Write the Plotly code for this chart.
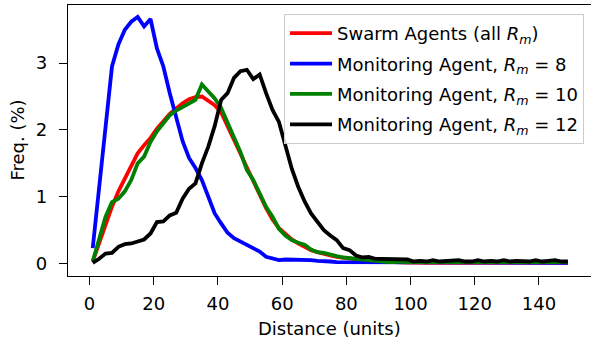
import plotly.graph_objects as go

distance = list(range(1, 150, 2))

swarm_all = [0.03, 0.30, 0.60, 0.85, 1.08, 1.28, 1.48, 1.65, 1.77, 1.88,
             2.02, 2.14, 2.24, 2.32, 2.40, 2.46, 2.49, 2.50, 2.44, 2.37,
             2.26, 2.05, 1.85, 1.65, 1.42, 1.22, 1.03, 0.83, 0.66, 0.53,
             0.45, 0.36, 0.30, 0.25, 0.20, 0.17, 0.14, 0.12, 0.10, 0.09,
             0.075, 0.06, 0.05, 0.035, 0.03, 0.03, 0.02, 0.02, 0.02, 0.015,
             0.015, 0.01, 0.01, 0.015, 0.01, 0.01, 0.01, 0.01, 0.01, 0.01,
             0.01, 0.01, 0.01, 0.01, 0.01, 0.01, 0.01, 0.01, 0.01, 0.01,
             0.01, 0.01, 0.01, 0.01, 0.01]

monitor_r8 = [0.23, 1.17, 2.10, 2.95, 3.28, 3.50, 3.62, 3.69, 3.55, 3.66,
              3.22, 2.95, 2.55, 2.17, 1.83, 1.58, 1.43, 1.25, 0.98, 0.75,
              0.60, 0.46, 0.38, 0.33, 0.27, 0.23, 0.18, 0.10, 0.08, 0.05,
              0.06, 0.06, 0.05, 0.06, 0.05, 0.04, 0.04, 0.03, 0.02, 0.02,
              0.02, 0.01, 0.02, 0.01, 0.01, 0.02, 0.01, 0.01, 0.01, 0.01,
              0.01, 0.01, 0.01, 0.01, 0.01, 0.01, 0.01, 0.01, 0.01, 0.01,
              0.01, 0.01, 0.01, 0.01, 0.01, 0.01, 0.01, 0.01, 0.01, 0.01,
              0.01, 0.01, 0.01, 0.01, 0.01]

monitor_r10 = [0.03, 0.35, 0.70, 0.92, 0.97, 1.08, 1.25, 1.50, 1.60, 1.82,
               1.98, 2.10, 2.22, 2.29, 2.34, 2.39, 2.45, 2.68, 2.58, 2.47,
               2.33, 2.10, 1.90, 1.67, 1.40, 1.25, 1.05, 0.85, 0.70, 0.52,
               0.42, 0.35, 0.31, 0.28, 0.21, 0.17, 0.16, 0.13, 0.11, 0.09,
               0.08, 0.07, 0.05, 0.04, 0.03, 0.03, 0.02, 0.02, 0.03, 0.02,
               0.02, 0.02, 0.02, 0.02, 0.02, 0.02, 0.02, 0.02, 0.02, 0.02,
               0.02, 0.02, 0.02, 0.02, 0.02, 0.02, 0.02, 0.02, 0.02, 0.02,
               0.02, 0.02, 0.02, 0.02, 0.02]

monitor_r12 = [0.01, 0.07, 0.15, 0.16, 0.25, 0.29, 0.30, 0.33, 0.36, 0.45,
               0.62, 0.63, 0.72, 0.76, 0.97, 1.12, 1.20, 1.50, 1.75, 2.06,
               2.45, 2.55, 2.78, 2.88, 2.90, 2.76, 2.83, 2.55, 2.30, 2.12,
               1.75, 1.42, 1.15, 0.93, 0.75, 0.62, 0.50, 0.42, 0.35, 0.23,
               0.20, 0.12, 0.09, 0.10, 0.07, 0.07, 0.07, 0.065, 0.065, 0.06,
               0.03, 0.04, 0.03, 0.05, 0.03, 0.04, 0.04, 0.05, 0.03, 0.03,
               0.05, 0.03, 0.04, 0.03, 0.05, 0.03, 0.04, 0.04, 0.03, 0.05,
               0.03, 0.04, 0.05, 0.03, 0.03]

x_ticks = [0, 20, 40, 60, 80, 100, 120, 140]
y_ticks = [0, 1, 2, 3]

series = [
    ("Swarm Agents (all <i>R</i><sub><i>m</i></sub>)", swarm_all, "#ff0000"),
    ("Monitoring Agent, <i>R</i><sub><i>m</i></sub> = 8", monitor_r8, "#0000ff"),
    ("Monitoring Agent, <i>R</i><sub><i>m</i></sub> = 10", monitor_r10, "#008000"),
    ("Monitoring Agent, <i>R</i><sub><i>m</i></sub> = 12", monitor_r12, "#000000"),
]

fig = go.Figure()
for i, (name, vals, color) in enumerate(series):
    fig.add_trace(go.Scatter(x=distance, y=vals, mode="lines", name=name,
                             legendgroup=f"g{i}",
                             line=dict(color=color, width=3.8)))

font = "DejaVu Sans, sans-serif"
axis_common = dict(ticks="outside", ticklen=8, tickwidth=1.4, tickcolor="black",
                   showline=True, linecolor="black", linewidth=1.4, mirror=True,
                   showgrid=False, zeroline=False, automargin=False,
                   tickfont=dict(size=18, color="black"))
fig.update_layout(
    width=591, height=347,
    margin=dict(l=68, r=0, t=5, b=71),
    paper_bgcolor="white", plot_bgcolor="white",
    font=dict(family=font, size=18, color="black"),
    showlegend=True,
    legend=dict(x=0.9866, xanchor="right", y=0.967, yanchor="top",
                bgcolor="rgba(255,255,255,0.8)", bordercolor="#cccccc",
                borderwidth=1, font=dict(size=18), traceorder="grouped",
                tracegroupgap=4, itemwidth=42, entrywidth=262),
    xaxis=dict(range=[-6.7, 156.2], tickvals=x_ticks, ticklabelstandoff=3,
               **axis_common),
    yaxis=dict(range=[-0.187, 3.87], tickvals=y_ticks, ticklabelstandoff=8,
               **axis_common),
    annotations=[
        dict(text="Distance (units)", xref="paper", yref="paper",
             x=0.5, y=0, yshift=-52, xanchor="center", yanchor="middle",
             showarrow=False, font=dict(size=18)),
        dict(text="Freq. (%)", xref="paper", yref="paper",
             x=0, xshift=-51, y=0.5, xanchor="center", yanchor="middle",
             textangle=-90, showarrow=False, font=dict(size=18)),
    ],
)

fig.write_html("out.html", config={"displayModeBar": False},
               post_script="document.body.style.margin='0';document.body.style.padding='0';")
